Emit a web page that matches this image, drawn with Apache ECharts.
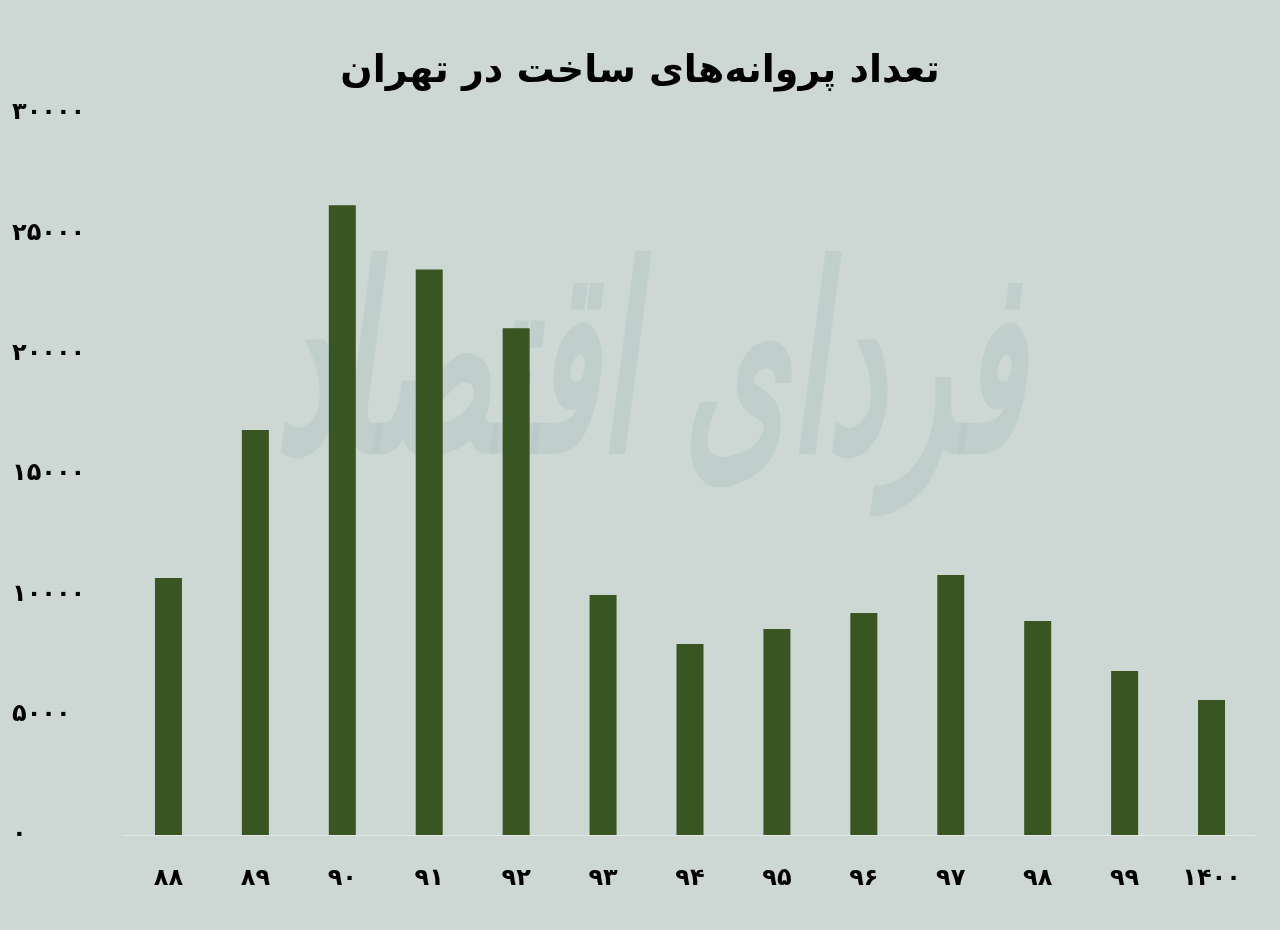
<!DOCTYPE html>
<html>
<head>
<meta charset="utf-8">
<script src="https://cdn.jsdelivr.net/npm/echarts@6/dist/echarts.min.js"></script>
<style>
html,body{margin:0;padding:0;background:#cdd8d5;}
#chart{width:1280px;height:930px;}
</style>
</head>
<body>
<div id="chart"></div>
<script>
const title = 'تعداد پروانه‌های ساخت در تهران';
const categories = ['۸۸','۸۹','۹۰','۹۱','۹۲','۹۳','۹۴','۹۵','۹۶','۹۷','۹۸','۹۹','۱۴۰۰'];
const permits = [10680, 16830, 26170, 23500, 21060, 9970, 7940, 8560, 9220, 10800, 8890, 6810, 5610];
const yTicks = [0, 5000, 10000, 15000, 20000, 25000, 30000];

const faDigits = '۰۱۲۳۴۵۶۷۸۹';
const toFa = v => String(v).replace(/\d/g, d => faDigits[d]);

const chart = echarts.init(document.getElementById('chart'));
chart.setOption({
  backgroundColor: '#cdd8d5',
  animation: false,
  title: {
    text: title,
    left: 'center',
    top: 48,
    textStyle: {fontFamily: 'DejaVu Sans', fontWeight: 'bold', fontSize: 38, color: '#000'}
  },
  graphic: [{
    type: 'text',
    left: 275,
    top: 255,
    z: 0,
    scaleY: 1.9,
    style: {
      text: 'فردای اقتصاد',
      font: 'italic bold 135px "DejaVu Sans"',
      fill: 'rgba(175,195,190,0.4)'
    }
  }],
  grid: {left: 125, right: 25, top: 113, bottom: 95},
  xAxis: {
    type: 'category',
    data: categories,
    axisLine: {show: true, lineStyle: {color: '#e4e8e6', width: 1}},
    axisTick: {show: false},
    axisLabel: {fontFamily: 'DejaVu Sans', fontWeight: 'bold', fontSize: 24, color: '#000', margin: 32}
  },
  yAxis: {
    type: 'value',
    min: yTicks[0],
    max: yTicks[yTicks.length - 1],
    interval: 5000,
    splitLine: {show: false},
    axisLine: {show: false},
    axisTick: {show: false},
    axisLabel: {
      fontFamily: 'DejaVu Sans', fontWeight: 'bold', fontSize: 24, color: '#000',
      align: 'left', margin: 113,
      formatter: v => toFa(v)
    }
  },
  series: [{
    type: 'bar',
    data: permits,
    barWidth: 27,
    z: 2,
    itemStyle: {color: '#395522'}
  }]
});
</script>
</body>
</html>
